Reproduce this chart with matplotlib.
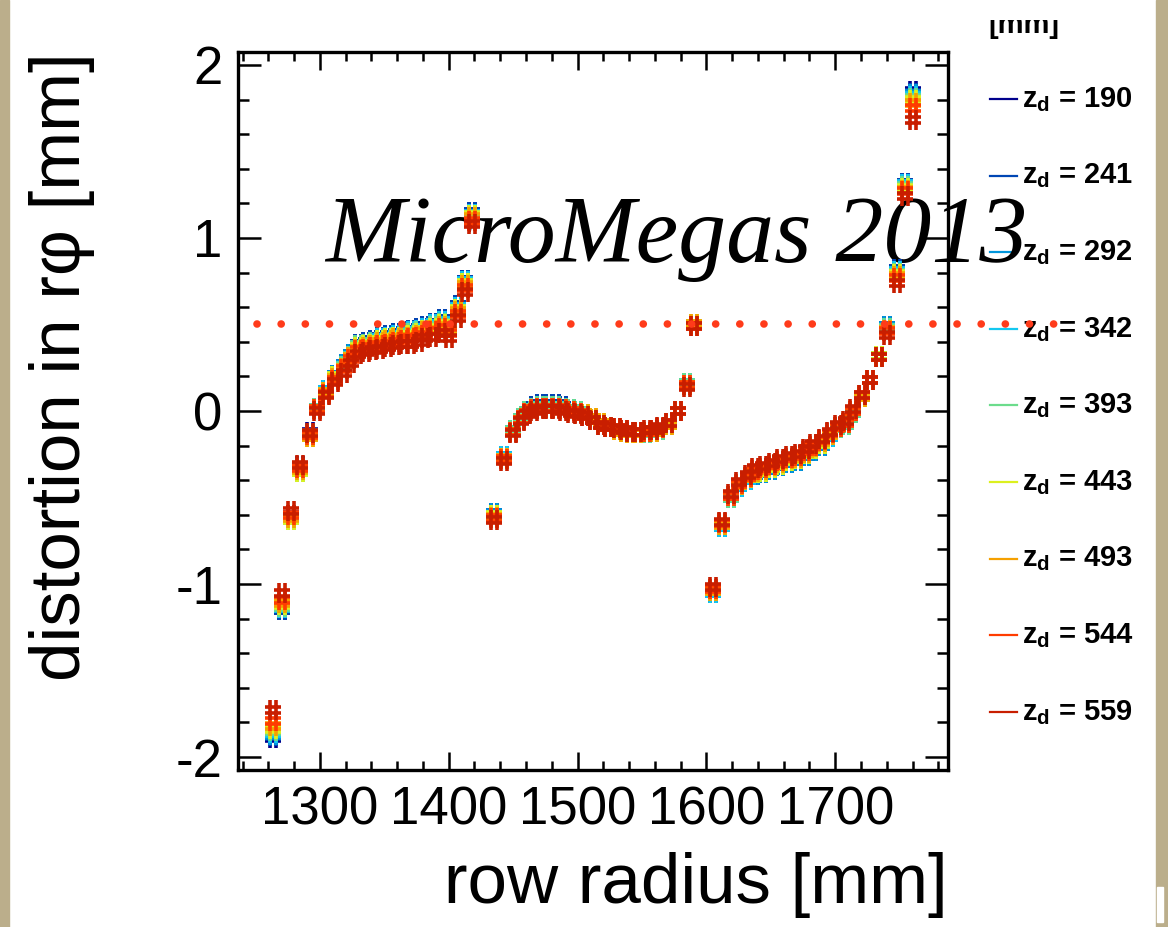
import matplotlib.pyplot as plt
from matplotlib.lines import Line2D
from matplotlib.patches import Rectangle
from matplotlib.path import Path
from matplotlib.ticker import MultipleLocator
from matplotlib.transforms import Bbox, TransformedBbox

plt.rcParams["font.family"] = ["Liberation Sans", "DejaVu Sans"]
plt.rcParams["axes.unicode_minus"] = False
plt.rcParams["mathtext.fontset"] = "custom"
plt.rcParams["mathtext.rm"] = "Liberation Sans"
plt.rcParams["mathtext.bf"] = "Liberation Sans:bold"

# pad row radii [mm]: inner, middle and outer module
row_radius = [
    1264, 1271, 1278, 1285, 1292, 1298, 1305, 1312, 1319, 1324, 1330, 1336, 1341,
    1347, 1353, 1359, 1365, 1371, 1377, 1382, 1388, 1395, 1400, 1407, 1413, 1418,
    1435, 1443, 1450, 1456, 1461, 1466, 1471, 1478, 1483, 1489, 1495, 1500, 1506,
    1512, 1518, 1524, 1531, 1536, 1541, 1547, 1554, 1559, 1564, 1571, 1578, 1585, 1590,
    1605, 1612, 1619, 1625, 1632, 1638, 1644, 1651, 1657, 1664, 1671, 1677, 1683,
    1690, 1696, 1702, 1708, 1714, 1721, 1727, 1734, 1740, 1748, 1754, 1760,
]

# r-phi distortion [mm] for each drift distance z_d
dist_190 = [
    -1.89, -1.15, -0.60, -0.32, -0.12, 0.02, 0.12, 0.21, 0.27, 0.33, 0.39, 0.40, 0.41,
    0.43, 0.44, 0.45, 0.46, 0.47, 0.48, 0.49, 0.51, 0.53, 0.50, 0.61, 0.76, 1.15,
    -0.59, -0.26, -0.11, -0.04, 0.00, 0.03, 0.04, 0.04, 0.04, 0.03, 0.01, 0.00, -0.02,
    -0.04, -0.07, -0.09, -0.11, -0.12, -0.13, -0.13, -0.13, -0.12, -0.11, -0.08, 0.00, 0.16, 0.50,
    -1.05, -0.67, -0.50, -0.44, -0.40, -0.37, -0.36, -0.34, -0.32, -0.30, -0.29, -0.26, -0.23,
    -0.20, -0.15, -0.10, -0.08, -0.01, 0.08, 0.18, 0.32, 0.49, 0.82, 1.32, 1.85,
]
dist_241 = [
    -1.88, -1.15, -0.61, -0.33, -0.13, 0.02, 0.12, 0.21, 0.27, 0.33, 0.39, 0.40, 0.41,
    0.43, 0.44, 0.45, 0.46, 0.47, 0.48, 0.49, 0.51, 0.53, 0.50, 0.61, 0.76, 1.15,
    -0.59, -0.26, -0.11, -0.04, 0.00, 0.03, 0.04, 0.04, 0.04, 0.03, 0.01, 0.00, -0.02,
    -0.04, -0.07, -0.09, -0.11, -0.12, -0.13, -0.13, -0.13, -0.12, -0.11, -0.08, 0.00, 0.16, 0.50,
    -1.05, -0.67, -0.50, -0.44, -0.40, -0.37, -0.36, -0.34, -0.32, -0.30, -0.29, -0.26, -0.23,
    -0.20, -0.15, -0.10, -0.08, -0.01, 0.08, 0.18, 0.32, 0.49, 0.82, 1.32, 1.84,
]
dist_292 = [
    -1.87, -1.14, -0.61, -0.33, -0.13, 0.02, 0.12, 0.21, 0.27, 0.33, 0.38, 0.39, 0.40,
    0.42, 0.43, 0.44, 0.45, 0.46, 0.47, 0.48, 0.50, 0.52, 0.49, 0.60, 0.75, 1.14,
    -0.59, -0.26, -0.11, -0.04, 0.00, 0.02, 0.03, 0.03, 0.03, 0.02, 0.01, 0.00, -0.02,
    -0.04, -0.07, -0.09, -0.11, -0.12, -0.13, -0.13, -0.13, -0.12, -0.11, -0.08, 0.00, 0.16, 0.50,
    -1.05, -0.67, -0.50, -0.44, -0.40, -0.37, -0.36, -0.34, -0.32, -0.30, -0.29, -0.26, -0.23,
    -0.20, -0.15, -0.10, -0.08, -0.01, 0.08, 0.18, 0.32, 0.49, 0.81, 1.31, 1.83,
]
dist_342 = [
    -1.86, -1.14, -0.62, -0.34, -0.14, 0.02, 0.12, 0.20, 0.26, 0.32, 0.38, 0.39, 0.40,
    0.42, 0.43, 0.44, 0.45, 0.46, 0.47, 0.48, 0.50, 0.52, 0.49, 0.60, 0.75, 1.14,
    -0.60, -0.26, -0.11, -0.04, 0.00, 0.02, 0.03, 0.03, 0.03, 0.02, 0.01, 0.00, -0.02,
    -0.04, -0.07, -0.09, -0.11, -0.12, -0.13, -0.13, -0.13, -0.12, -0.11, -0.08, 0.00, 0.16, 0.50,
    -1.05, -0.67, -0.50, -0.44, -0.40, -0.36, -0.35, -0.33, -0.31, -0.29, -0.28, -0.25, -0.22,
    -0.19, -0.15, -0.10, -0.08, -0.01, 0.08, 0.18, 0.32, 0.48, 0.81, 1.31, 1.82,
]
dist_393 = [
    -1.85, -1.13, -0.63, -0.35, -0.15, 0.02, 0.11, 0.20, 0.26, 0.32, 0.38, 0.39, 0.40,
    0.41, 0.42, 0.43, 0.44, 0.45, 0.46, 0.47, 0.49, 0.51, 0.48, 0.59, 0.74, 1.13,
    -0.60, -0.27, -0.11, -0.04, 0.00, 0.02, 0.03, 0.03, 0.03, 0.02, 0.01, 0.00, -0.02,
    -0.04, -0.07, -0.09, -0.11, -0.12, -0.13, -0.13, -0.13, -0.12, -0.11, -0.08, 0.00, 0.16, 0.50,
    -1.04, -0.66, -0.50, -0.43, -0.39, -0.36, -0.35, -0.33, -0.31, -0.29, -0.28, -0.25, -0.22,
    -0.19, -0.14, -0.10, -0.08, -0.01, 0.08, 0.18, 0.32, 0.48, 0.80, 1.30, 1.81,
]
dist_443 = [
    -1.84, -1.12, -0.63, -0.35, -0.15, 0.01, 0.11, 0.20, 0.25, 0.31, 0.37, 0.38, 0.39,
    0.41, 0.42, 0.43, 0.44, 0.44, 0.45, 0.47, 0.48, 0.50, 0.47, 0.59, 0.74, 1.13,
    -0.60, -0.27, -0.12, -0.05, -0.01, 0.01, 0.02, 0.02, 0.02, 0.01, 0.00, -0.01, -0.02,
    -0.04, -0.07, -0.09, -0.11, -0.12, -0.13, -0.13, -0.12, -0.12, -0.10, -0.08, 0.00, 0.15, 0.50,
    -1.04, -0.66, -0.49, -0.43, -0.39, -0.36, -0.35, -0.33, -0.31, -0.29, -0.28, -0.25, -0.22,
    -0.19, -0.14, -0.09, -0.07, 0.00, 0.08, 0.18, 0.32, 0.47, 0.79, 1.29, 1.80,
]
dist_493 = [
    -1.82, -1.11, -0.62, -0.34, -0.15, 0.01, 0.11, 0.19, 0.25, 0.31, 0.36, 0.37, 0.38,
    0.40, 0.41, 0.42, 0.43, 0.43, 0.44, 0.46, 0.47, 0.49, 0.46, 0.58, 0.73, 1.12,
    -0.61, -0.27, -0.12, -0.05, -0.01, 0.01, 0.02, 0.02, 0.02, 0.01, 0.00, -0.01, -0.02,
    -0.04, -0.07, -0.09, -0.11, -0.12, -0.13, -0.13, -0.12, -0.12, -0.10, -0.08, 0.00, 0.15, 0.50,
    -1.04, -0.66, -0.49, -0.43, -0.39, -0.35, -0.34, -0.32, -0.30, -0.28, -0.27, -0.24, -0.21,
    -0.18, -0.14, -0.09, -0.07, 0.00, 0.08, 0.18, 0.31, 0.47, 0.78, 1.28, 1.78,
]
dist_544 = [
    -1.79, -1.09, -0.60, -0.33, -0.14, 0.01, 0.10, 0.18, 0.24, 0.30, 0.35, 0.36, 0.37,
    0.38, 0.39, 0.40, 0.41, 0.42, 0.43, 0.44, 0.46, 0.48, 0.45, 0.56, 0.71, 1.10,
    -0.62, -0.28, -0.12, -0.05, -0.01, 0.01, 0.02, 0.02, 0.02, 0.01, 0.00, -0.01, -0.03,
    -0.05, -0.08, -0.09, -0.10, -0.11, -0.12, -0.12, -0.12, -0.11, -0.10, -0.07, 0.00, 0.15, 0.49,
    -1.03, -0.65, -0.49, -0.42, -0.38, -0.34, -0.33, -0.31, -0.29, -0.27, -0.26, -0.23, -0.20,
    -0.17, -0.13, -0.09, -0.07, 0.00, 0.09, 0.18, 0.31, 0.46, 0.77, 1.27, 1.75,
]
dist_559 = [
    -1.73, -1.05, -0.58, -0.31, -0.13, 0.00, 0.09, 0.17, 0.22, 0.28, 0.33, 0.34, 0.35,
    0.36, 0.37, 0.38, 0.39, 0.39, 0.40, 0.42, 0.43, 0.45, 0.42, 0.54, 0.69, 1.08,
    -0.63, -0.29, -0.13, -0.06, -0.02, 0.00, 0.01, 0.01, 0.01, 0.00, -0.01, -0.02, -0.03,
    -0.05, -0.08, -0.09, -0.10, -0.11, -0.12, -0.12, -0.11, -0.11, -0.09, -0.07, 0.00, 0.14, 0.49,
    -1.02, -0.64, -0.48, -0.41, -0.37, -0.33, -0.32, -0.30, -0.28, -0.26, -0.25, -0.22, -0.19,
    -0.16, -0.12, -0.08, -0.06, 0.01, 0.09, 0.18, 0.31, 0.44, 0.74, 1.24, 1.68,
]

drift_z = [190, 241, 292, 342, 393, 443, 493, 544, 559]
series = [dist_190, dist_241, dist_292, dist_342, dist_393,
          dist_443, dist_493, dist_544, dist_559]
colors = ["#00008c", "#0046b4", "#0096dc", "#14c8f0", "#6cdc8c",
          "#dcf01e", "#f5a000", "#ff3c00", "#c81e00"]

# tolerance level and its extent along r
ref_level = 0.5
ref_span = [1251, 1886]

W, H = 1168, 927
fig = plt.figure(figsize=(W / 100, H / 100), dpi=100)

# parchment border of the slide
fig.patches.append(Rectangle((0, 0), 9 / W, 1, transform=fig.transFigure,
                             color="#bbae8b", zorder=0))
fig.patches.append(Rectangle((1156 / W, 0), 12 / W, 1, transform=fig.transFigure,
                             color="#bbae8b", zorder=0))
fig.patches.append(Rectangle((1157 / W, 1 - 922 / H), 6 / W, 35 / H,
                             transform=fig.transFigure, color="white", zorder=1))

ax = fig.add_axes([238 / W, 1 - 770 / H, 710 / W, 718 / H])
ax.patch.set_alpha(0)

# "#" shaped marker
hash_path = Path(
    [(-0.36, -1), (-0.36, 1), (0.36, -1), (0.36, 1),
     (-0.78, -0.32), (0.78, -0.32), (-0.78, 0.32), (0.78, 0.32)],
    [Path.MOVETO, Path.LINETO] * 4,
)

for dist, c in zip(series, colors):
    ax.plot(row_radius, dist, ls="none", marker=hash_path, ms=14, mew=2.6,
            mec=c, mfc="none", zorder=3)

ax.plot(ref_span, [ref_level, ref_level], color="#ff3b1a", lw=5.5,
        ls=(0, (0.01, 3.15)), dash_capstyle="round", clip_on=False, zorder=4)

ax.set_xlim(1236.5, 1787.5)
ax.set_ylim(-2.075, 2.075)
ax.xaxis.set_major_locator(MultipleLocator(100))
ax.xaxis.set_minor_locator(MultipleLocator(20))
ax.yaxis.set_major_locator(MultipleLocator(1))
ax.yaxis.set_minor_locator(MultipleLocator(0.2))
ax.tick_params(which="both", direction="in", top=True, right=True,
               width=1.8, labelsize=38, pad=11)
ax.tick_params(axis="y", which="major", length=16.5)
ax.tick_params(axis="y", which="minor", length=8)
ax.tick_params(axis="x", which="major", length=13)
ax.tick_params(axis="x", which="minor", length=6.5)
for s in ax.spines.values():
    s.set_linewidth(2.4)

fig.text(948 / W, 1 - 903 / H, "row radius [mm]", ha="right", va="baseline",
         fontsize=51)
fig.text(80 / W, 1 - 52 / H, "distortion in rφ [mm]", rotation=90,
         rotation_mode="anchor", ha="right", va="baseline", fontsize=51)

ax.text(325 / W, 1 - 262 / H, "MicroMegas 2013", transform=fig.transFigure,
        family="Liberation Serif", style="italic", fontsize=69,
        ha="left", va="baseline", clip_on=False, zorder=2)

# legend to the right of the frame
hdr = fig.text(988 / W, 1 - 33 / H, "[mm]", fontsize=21, fontweight="bold",
               va="baseline")
hdr.set_clip_box(TransformedBbox(Bbox.from_extents(0, 0, 1, 1 - 20 / H),
                                 fig.transFigure))
hdr.set_clip_on(True)

for i, (z, c) in enumerate(zip(drift_z, colors)):
    yl = 99 + 76.6 * i
    ax.add_line(Line2D([990 / W, 1017 / W], [1 - yl / H, 1 - yl / H],
                       transform=fig.transFigure, color=c, lw=1.6,
                       clip_on=False, zorder=1))
    ax.text(1022 / W, 1 - (yl + 8) / H, r"$\mathbf{z_d}$ = %d" % z,
            transform=fig.transFigure, fontsize=21, fontweight="bold",
            va="baseline", clip_on=False, zorder=1)

fig.savefig("out.png", dpi=100)
